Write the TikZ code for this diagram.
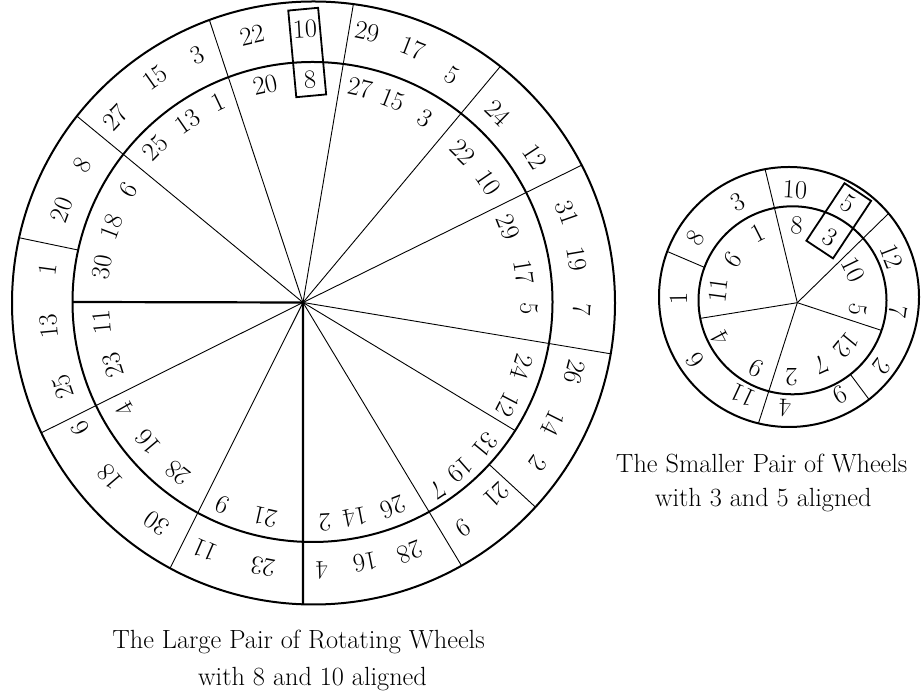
\documentclass[tikz,border=0pt]{standalone}
\usetikzlibrary{calc}
\begin{document}
\begin{tikzpicture}[x=1pt,y=1pt,
  num/.style={inner sep=0pt, font=\fontsize{26.3}{30}\selectfont},
  rim/.style={line width=2pt},
  spoke/.style={line width=0.9pt},
  bold/.style={line width=2.2pt},
  frame/.style={draw, line width=1.8pt, inner sep=0pt},
  captext/.style={anchor=base, inner sep=0pt, font=\fontsize{26.3}{30}\selectfont}]
\useasboundingbox (0,0) rectangle (923,698);
% ---------------- large pair of wheels ----------------
\coordinate (C) at (313.5,395);
\coordinate (Ci) at (312.5,396);
\coordinate (H) at (303,395.5);
\draw[rim] (C) circle[radius=301.5];
\draw[rim] (Ci) circle[radius=240];
\foreach \a in {27.2,51.7,82.4,110.2,141.7,205.5,241.6,299.4,350.3}
  \draw[spoke] (H) -- ($(C)+(\a:301.5)$);
\foreach \a in {167.5,317.4}
  \draw[spoke] ($(Ci)+(\a:240)$) -- ($(C)+(\a:301.5)$);
\draw[spoke] (H) -- ($(Ci)+(327.6:240)$);
\draw[bold] (H) -- ($(Ci)+(180:240)$);
\draw[bold] (H) -- ($(C)+(268:301.5)$);
% outer wheel numbers
\node[num,rotate=3] (o10) at (305,669) {10};
\node[num,rotate=-11.3] (o29) at (367,666) {29};
\node[num,rotate=-21.4] (o17) at (413,650) {17};
\node[num,rotate=-31.4] (o5) at (452,623) {5};
\node[num,rotate=-44.2] (o24) at (498,585) {24};
\node[num,rotate=-56.7] (o12) at (535,541) {12};
\node[num,rotate=-70.5] (o31) at (567,485) {31};
\node[num,rotate=-80.4] (o19) at (577,439) {19};
\node[num,rotate=-91.5] (o7) at (582,388) {7};
\node[num,rotate=-104.8] (o26) at (575,326) {26};
\node[num,rotate=-116.6] (o14) at (553,275) {14};
\node[num,rotate=-125.4] (o2) at (538,235) {2};
\node[num,rotate=-136.2] (o21) at (497,203) {21};
\node[num,rotate=-146.3] (o9) at (463,170) {9};
\node[num,rotate=-158.7] (o28) at (410,146) {28};
\node[num,rotate=-168.6] (o16) at (365,136) {16};
\node[num,rotate=-178.1] (o4) at (322,128) {4};
\node[num,rotate=169.3] (o23) at (263,131) {23};
\node[num,rotate=156.4] (o11) at (205,148) {11};
\node[num,rotate=144.7] (o30) at (157,175) {30};
\node[num,rotate=130.6] (o18) at (110,221) {18};
\node[num,rotate=118.2] (o6) at (80,270) {6};
\node[num,rotate=108.6] (o25) at (63,311) {25};
\node[num,rotate=95.2] (o13) at (49,372) {13};
\node[num,rotate=82.3] (o1) at (48,429) {1};
\node[num,rotate=69.7] (o20) at (62,488) {20};
\node[num,rotate=59.1] (o8) at (82,533) {8};
\node[num,rotate=46.9] (o27) at (115,580) {27};
\node[num,rotate=35.1] (o15) at (155,620) {15};
\node[num,rotate=25.1] (o3) at (197,643) {3};
\node[num,rotate=12.8] (o22) at (252,663) {22};
% inner wheel numbers
\node[num,rotate=3] (i8) at (310,618) {8};
\node[num,rotate=-12.3] (i27) at (360,610) {27};
\node[num,rotate=-21.5] (i15) at (393,598) {15};
\node[num,rotate=-31.2] (i3) at (425,580) {3};
\node[num,rotate=-44.8] (i22) at (463,546) {22};
\node[num,rotate=-55.6] (i10) at (488,515) {10};
\node[num,rotate=-68.7] (i29) at (508,471) {29};
\node[num,rotate=-81] (i17) at (524,426) {17};
\node[num,rotate=-91.3] (i5) at (529,389) {5};
\node[num,rotate=-107] (i24) at (522,331) {24};
\node[num,rotate=-117.6] (i12) at (508,293) {12};
\node[num,rotate=-129.5] (i31) at (485,253) {31};
\node[num,rotate=-138.6] (i19) at (460,228) {19};
\node[num,rotate=-146.2] (i7) at (438,208) {7};
\node[num,rotate=-158.6] (i26) at (393,191) {26};
\node[num,rotate=-168.9] (i14) at (355,181) {14};
\node[num,rotate=-176.9] (i2) at (325,175) {2};
\node[num,rotate=167.4] (i21) at (265,181) {21};
\node[num,rotate=156] (i9) at (223,193) {9};
\node[num,rotate=141.5] (i28) at (178,225) {28};
\node[num,rotate=130.1] (i16) at (148,256) {16};
\node[num,rotate=119.6] (i4) at (125,288) {4};
\node[num,rotate=107.2] (i23) at (113,333) {23};
\node[num,rotate=95.1] (i11) at (102,376) {11};
\node[num,rotate=80.3] (i30) at (102,431) {30};
\node[num,rotate=69.3] (i18) at (112,471) {18};
\node[num,rotate=58.6] (i6) at (128,508) {6};
\node[num,rotate=45.5] (i25) at (155,550) {25};
\node[num,rotate=34.6] (i13) at (188,576) {13};
\node[num,rotate=25.3] (i1) at (218,596) {1};
\node[num,rotate=12.4] (i20) at (265,613) {20};
\node[frame,rotate=5.3,minimum width=30,minimum height=87] (boxL) at (307.2,645.5) {};
\node[captext] (capL1) at (298.5,49) {The Large Pair of Rotating Wheels};
\node[captext] (capL2) at (312.5,12.5) {with 8 and 10 aligned};
% ---------------- small pair of wheels ----------------
\coordinate (S) at (789,401);
\coordinate (Si) at (792.5,397.7);
\coordinate (T) at (797.3,395.3);
\draw[rim] (S) circle[radius=130];
\draw[rim] (Si) circle[radius=94];
\foreach \a in {100.6,40.0,256.4}
  \draw[spoke] (T) -- ($(S)+(\a:130)$);
\foreach \a in {341.3,191.1}
  \draw[spoke] (T) -- ($(Si)+(\a:94)$);
\foreach \a in {308,159.5}
  \draw[spoke] ($(Si)+(\a:94)$) -- ($(S)+(\a:130)$);
\node[num,rotate=-3.2] (so10) at (795,508) {10};
\node[num,rotate=-32.3] (so5) at (848.3,494.7) {5};
\node[num,rotate=-68.6] (so12) at (891.7,441.3) {12};
\node[num,rotate=-97.7] (so7) at (898.3,386.3) {7};
\node[num,rotate=-126.9] (so2) at (881.7,331.3) {2};
\node[num,rotate=-152.5] (so9) at (840,303) {9};
\node[num,rotate=178] (so4) at (785,289.7) {4};
\node[num,rotate=155] (so11) at (743.3,303) {11};
\node[num,rotate=123.8] (so6) at (695,338) {6};
\node[num,rotate=90.7] (so1) at (678.3,399.7) {1};
\node[num,rotate=58] (so8) at (695,459.7) {8};
\node[num,rotate=28] (so3) at (738.3,496.3) {3};
\node[num,rotate=-3.6] (si8) at (796.7,473) {8};
\node[num,rotate=-31.2] (si3) at (830,460.7) {3};
\node[num,rotate=-63.9] (si10) at (853.3,428) {10};
\node[num,rotate=-98] (si5) at (858.3,388.7) {5};
\node[num,rotate=-129.4] (si12) at (846.7,353) {12};
\node[num,rotate=-155.4] (si7) at (821.7,333) {7};
\node[num,rotate=-180] (si2) at (791.7,321.3) {2};
\node[num,rotate=152.7] (si9) at (756.7,329.7) {9};
\node[num,rotate=118] (si4) at (720,359.7) {4};
\node[num,rotate=82.3] (si11) at (718.3,408) {11};
\node[num,rotate=55.7] (si6) at (733.3,438) {6};
\node[num,rotate=26.8] (si1) at (758.3,464.7) {1};
\node[frame,rotate=-33.5,minimum width=32,minimum height=69] (boxS) at (838.75,477.2) {};
\node[captext] (capS1) at (761.7,225.5) {The Smaller Pair of Wheels};
\node[captext] (capS2) at (763.3,191) {with 3 and 5 aligned};
\end{tikzpicture}
\end{document}
